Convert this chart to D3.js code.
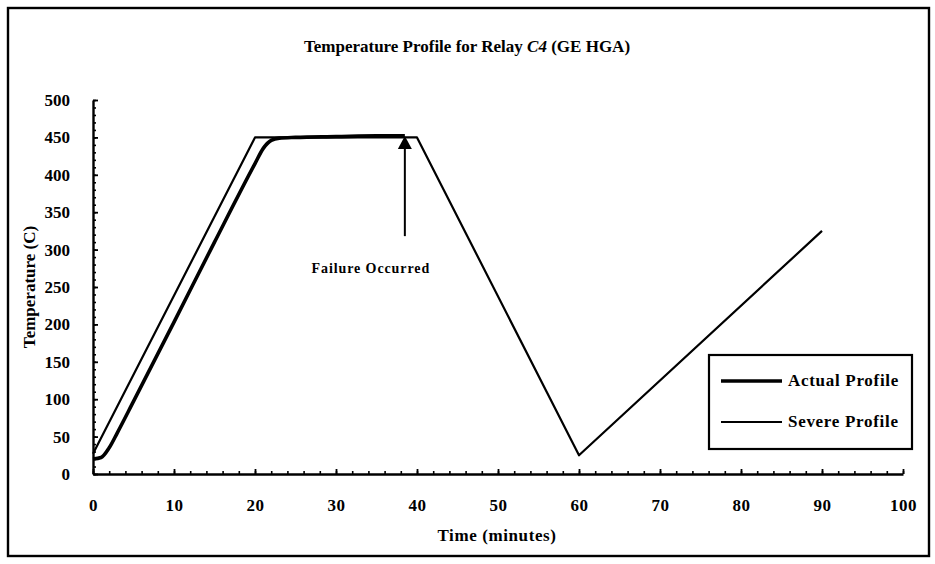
<!DOCTYPE html>
<html>
<head>
<meta charset="utf-8">
<script src="https://cdn.jsdelivr.net/npm/d3@7"></script>
<style>
  html, body { margin: 0; padding: 0; background: #fff; }
  svg { display: block; }
  text { font-family: "Liberation Serif", "DejaVu Serif", serif; font-weight: bold; fill: #000; }
</style>
</head>
<body>
<svg id="chart" width="935" height="564"></svg>
<script>
// Measured temperature (C) against time (minutes) for relay C4
const actualTime  = [0, 1, 2, 3, 5, 10, 15, 20, 21, 22, 23, 25, 30, 35, 38.5];
const actualTemp  = [20, 22, 35, 55, 97, 203, 310, 415, 435, 446, 449, 450, 451, 452, 452];

// Severe reference profile
const severeTime  = [0, 20, 40, 60, 90];
const severeTemp  = [27, 450, 450, 25, 325];

// Failure annotation
const failureTime = 38.5;
const failureFrom = 318;
const failureTo   = 452;

const xTicks = [0, 10, 20, 30, 40, 50, 60, 70, 80, 90, 100];
const yTicks = [0, 50, 100, 150, 200, 250, 300, 350, 400, 450, 500];

const svg = d3.select("#chart");

const x = d3.scaleLinear().domain([0, 100]).range([93, 903]);
const y = d3.scaleLinear().domain([0, 500]).range([474, 100]);

// outer frame
svg.append("rect")
  .attr("x", 8).attr("y", 8).attr("width", 921).attr("height", 548)
  .attr("fill", "none").attr("stroke", "#000").attr("stroke-width", 2.4);

// title
const title = svg.append("text")
  .attr("x", 467).attr("y", 52)
  .attr("text-anchor", "middle")
  .style("font-size", "17px");
title.append("tspan").text("Temperature Profile for Relay ");
title.append("tspan").style("font-style", "italic").text("C4");
title.append("tspan").text(" (GE HGA)");

// minor ticks
svg.append("g")
  .attr("transform", `translate(0,${y(0)})`)
  .call(d3.axisBottom(x).tickValues(d3.range(0, 101, 2)).tickSize(-3).tickFormat(""))
  .call(g => g.select(".domain").remove())
  .selectAll("line").attr("stroke-width", 1.6);

svg.append("g")
  .attr("transform", `translate(${x(0)},0)`)
  .call(d3.axisLeft(y).tickValues(d3.range(0, 501, 10)).tickSize(-3).tickFormat(""))
  .call(g => g.select(".domain").remove())
  .selectAll("line").attr("stroke-width", 1.6);

// major ticks and labels
const xAxis = svg.append("g")
  .attr("transform", `translate(0,${y(0)})`)
  .call(d3.axisBottom(x).tickValues(xTicks).tickSize(-5).tickSizeOuter(0).tickPadding(25));
xAxis.select(".domain").attr("stroke-width", 2.4);
xAxis.selectAll("line").attr("stroke-width", 1.8);
xAxis.selectAll("text")
  .style("font-size", "17px")
  .style("font-family", "'Liberation Serif', serif")
  .style("letter-spacing", "0.5px");

const yAxis = svg.append("g")
  .attr("transform", `translate(${x(0)},0)`)
  .call(d3.axisLeft(y).tickValues(yTicks).tickSize(-5).tickSizeOuter(0).tickPadding(23));
yAxis.select(".domain").attr("stroke-width", 2.4);
yAxis.selectAll("line").attr("stroke-width", 1.8);
yAxis.selectAll("text")
  .style("font-size", "17px")
  .style("font-family", "'Liberation Serif', serif");

// axis titles
svg.append("text")
  .attr("x", 497).attr("y", 541)
  .attr("text-anchor", "middle")
  .style("font-size", "17px")
  .style("letter-spacing", "0.6px")
  .text("Time (minutes)");

svg.append("text")
  .attr("transform", `translate(35,${(y(0) + y(500)) / 2}) rotate(-90)`)
  .attr("text-anchor", "middle")
  .style("font-size", "17px")
  .text("Temperature (C)");

// profile lines
const line = d3.line().x(d => x(d[0])).y(d => y(d[1]));

svg.append("path")
  .datum(severeTime.map((t, i) => [t, severeTemp[i]]))
  .attr("d", line)
  .attr("fill", "none").attr("stroke", "#000")
  .attr("stroke-width", 2.2).attr("stroke-linejoin", "round");

svg.append("path")
  .datum(actualTime.map((t, i) => [t, actualTemp[i]]))
  .attr("d", line.curve(d3.curveMonotoneX))
  .attr("fill", "none").attr("stroke", "#000")
  .attr("stroke-width", 3.6).attr("stroke-linejoin", "round");

// failure arrow
const ax = x(failureTime);
svg.append("line")
  .attr("x1", ax).attr("x2", ax)
  .attr("y1", y(failureFrom)).attr("y2", y(failureTo) + 10)
  .attr("stroke", "#000").attr("stroke-width", 2);
svg.append("path")
  .attr("d", `M${ax},${y(failureTo)} L${ax - 7},${y(failureTo) + 13} L${ax + 7},${y(failureTo) + 13} Z`)
  .attr("fill", "#000");
svg.append("text")
  .attr("x", ax - 34).attr("y", 273)
  .attr("text-anchor", "middle")
  .style("font-size", "14px")
  .style("letter-spacing", "0.9px")
  .text("Failure Occurred");

// legend
const legend = svg.append("g");
legend.append("rect")
  .attr("x", 709).attr("y", 355).attr("width", 203).attr("height", 94)
  .attr("fill", "#fff").attr("stroke", "#000").attr("stroke-width", 2.2);

const legendItems = [
  { label: "Actual Profile", width: 3.6, yy: 381 },
  { label: "Severe Profile", width: 2.2, yy: 422 }
];
legendItems.forEach(d => {
  legend.append("line")
    .attr("x1", 721).attr("x2", 782).attr("y1", d.yy).attr("y2", d.yy)
    .attr("stroke", "#000").attr("stroke-width", d.width);
  legend.append("text")
    .attr("x", 788).attr("y", d.yy + 5)
    .style("font-size", "17px")
    .style("letter-spacing", "0.7px")
    .text(d.label);
});
</script>
</body>
</html>
